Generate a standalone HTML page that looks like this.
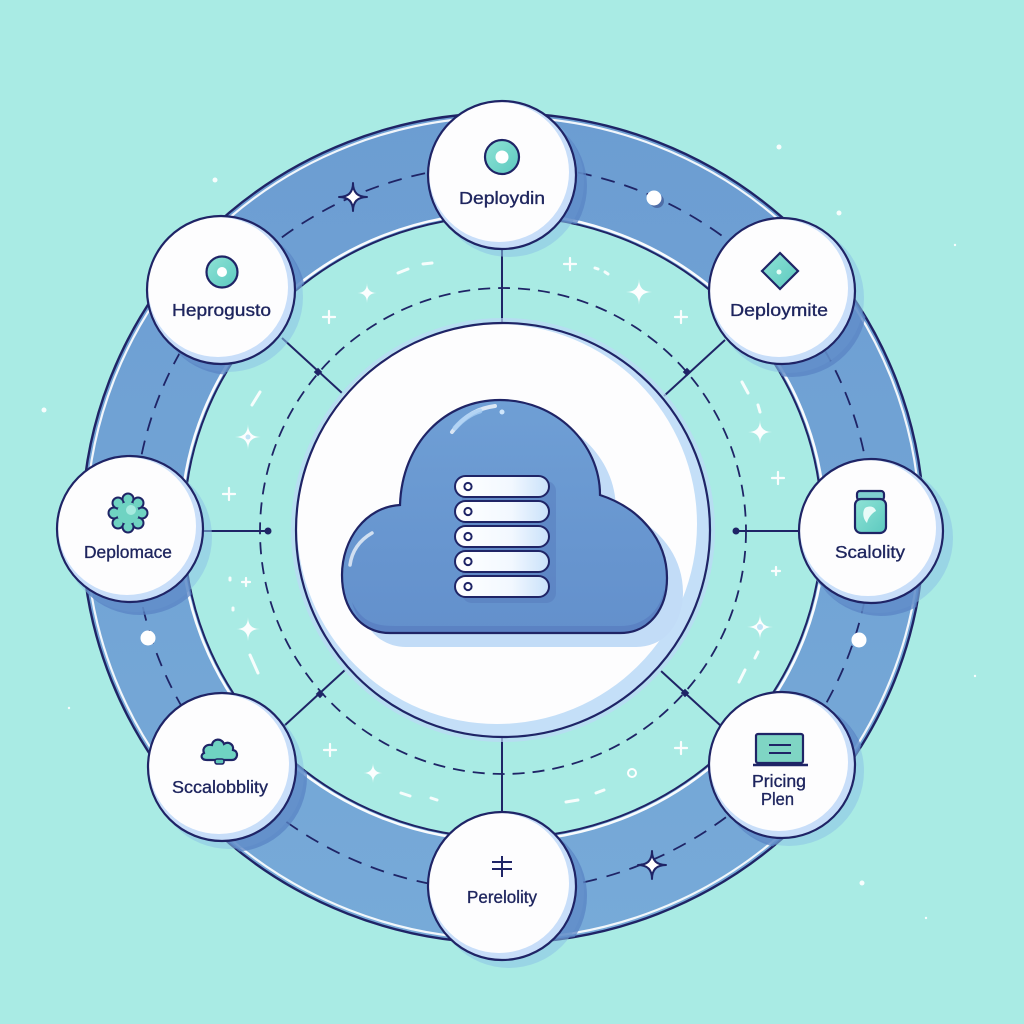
<!DOCTYPE html>
<html><head><meta charset="utf-8"><style>
html,body{margin:0;padding:0;background:#a9ebe4;}
svg{display:block;}
text{font-family:"Liberation Sans",sans-serif;fill:#1e255e;stroke:#1e255e;stroke-width:0.35;}
</style></head><body>
<svg width="1024" height="1024" viewBox="0 0 1024 1024" xmlns="http://www.w3.org/2000/svg">
<defs>
  <linearGradient id="band" x1="0" y1="0" x2="0" y2="1">
    <stop offset="0" stop-color="#6c9dd2"/>
    <stop offset="1" stop-color="#77aad8"/>
  </linearGradient>
  <linearGradient id="cloudg" x1="0" y1="0" x2="0" y2="1">
    <stop offset="0" stop-color="#6f9fd5"/>
    <stop offset="1" stop-color="#6390cc"/>
  </linearGradient>
  <linearGradient id="pill" x1="0" y1="0" x2="1" y2="0">
    <stop offset="0" stop-color="#ffffff"/>
    <stop offset="0.6" stop-color="#f2f8ff"/>
    <stop offset="1" stop-color="#c9e1fa"/>
  </linearGradient>
  <linearGradient id="teal" x1="0" y1="0" x2="1" y2="1">
    <stop offset="0" stop-color="#8fe3d6"/>
    <stop offset="1" stop-color="#5cc9bf"/>
  </linearGradient>
  <clipPath id="bandclip">
    <path clip-rule="evenodd" d="M82,528 a421,415 0 1,0 842,0 a421,415 0 1,0 -842,0 Z M184,527 a319,311 0 1,0 638,0 a319,311 0 1,0 -638,0 Z"/>
  </clipPath>
</defs>

<rect width="1024" height="1024" fill="#a9ebe4"/>

<!-- outer background dots -->
<g fill="#ffffff" opacity="0.9">
  <circle cx="215" cy="180" r="2.5"/>
  <circle cx="44" cy="410" r="2.5"/>
  <circle cx="779" cy="147" r="2.5"/>
  <circle cx="839" cy="213" r="2.5"/>
  <circle cx="862" cy="883" r="2.5"/>
  <circle cx="163" cy="262" r="1.2"/>
  <circle cx="69" cy="708" r="1.2"/>
  <circle cx="926" cy="918" r="1.2"/>
  <circle cx="975" cy="676" r="1.2"/>
  <circle cx="955" cy="245" r="1.2"/>
</g>

<!-- ring band -->
<path fill="url(#band)" fill-rule="evenodd" d="M82,528 a421,415 0 1,0 842,0 a421,415 0 1,0 -842,0 Z M184,527 a319,311 0 1,0 638,0 a319,311 0 1,0 -638,0 Z"/>
<ellipse cx="503" cy="528" rx="417" ry="411" fill="none" stroke="#ffffff" stroke-width="2.2" opacity="0.9"/>
<ellipse cx="503" cy="528" rx="421" ry="415" fill="none" stroke="#1f2466" stroke-width="2.4"/>
<ellipse cx="503" cy="527" rx="322" ry="314" fill="none" stroke="#ffffff" stroke-width="2.6" opacity="0.95"/>
<ellipse cx="503" cy="527" rx="319" ry="311" fill="none" stroke="#1f2466" stroke-width="2"/>
<ellipse cx="503" cy="528" rx="369" ry="363" fill="none" stroke="#1f2466" stroke-width="1.8" stroke-dasharray="14 10"/>

<!-- white dash fragments inner region -->
<g stroke="#ffffff" stroke-width="3" stroke-linecap="round" opacity="0.9">
  <line x1="398" y1="273" x2="408" y2="269"/>
  <line x1="423" y1="264" x2="432" y2="263"/>
  <line x1="595" y1="268" x2="598" y2="269"/>
  <line x1="605" y1="272" x2="608" y2="274"/>
  <line x1="260" y1="392" x2="252" y2="405"/>
  <line x1="230" y1="578" x2="230" y2="580"/>
  <line x1="233" y1="608" x2="233" y2="610"/>
  <line x1="250" y1="655" x2="258" y2="673"/>
  <line x1="401" y1="793" x2="410" y2="796"/>
  <line x1="431" y1="798" x2="437" y2="800"/>
  <line x1="566" y1="802" x2="578" y2="800"/>
  <line x1="596" y1="793" x2="604" y2="790"/>
  <line x1="739" y1="682" x2="745" y2="670"/>
  <line x1="755" y1="658" x2="758" y2="652"/>
  <line x1="742" y1="382" x2="748" y2="393"/>
  <line x1="758" y1="405" x2="760" y2="412"/>
</g>

<!-- inner dashed circle -->
<circle cx="503" cy="531" r="243" fill="none" stroke="#1f2466" stroke-width="1.8" stroke-dasharray="12 8"/>

<!-- connectors -->
<g stroke="#1f2466" stroke-width="2" fill="none">
  <line x1="502" y1="249" x2="502" y2="324"/>
  <line x1="502" y1="736" x2="502" y2="812"/>
  <line x1="202" y1="531" x2="268" y2="531"/>
  <line x1="736" y1="531" x2="800" y2="531"/>
  <line x1="282" y1="338" x2="342" y2="393"/>
  <line x1="725" y1="340" x2="664" y2="396"/>
  <line x1="284" y1="726" x2="345" y2="670"/>
  <line x1="721" y1="726" x2="661" y2="671"/>
</g>
<g fill="#1f2466">
  <circle cx="268" cy="531" r="3.5"/>
  <circle cx="736" cy="531" r="3.5"/>
  <rect x="315" y="369" width="6" height="6" transform="rotate(45 318 372)"/>
  <rect x="684" y="369" width="6" height="6" transform="rotate(45 687 372)"/>
  <rect x="317" y="691" width="6" height="6" transform="rotate(45 320 694)"/>
  <rect x="682" y="690" width="6" height="6" transform="rotate(45 685 693)"/>
</g>

<!-- central circle -->
<circle cx="503" cy="530" r="212" fill="#bcd9f6" opacity="0.7"/>
<circle cx="503" cy="530" r="207" fill="#c4dff8"/>
<circle cx="497" cy="524" r="200" fill="#fdfdfe"/>
<circle cx="503" cy="530" r="207" fill="none" stroke="#1f2466" stroke-width="2.2"/>

<!-- cloud -->
<path transform="translate(16 14)" fill="#c2dcf7" d="M390,633 L620,633 C650,633 667,608 667,578 C667,540 640,508 600,495 C600,443 555,400 500,400 C445,400 402,443 400,505 C365,507 342,540 342,575 C342,610 362,633 390,633 Z"/>
<path fill="url(#cloudg)" d="M390,633 L620,633 C650,633 667,608 667,578 C667,540 640,508 600,495 C600,443 555,400 500,400 C445,400 402,443 400,505 C365,507 342,540 342,575 C342,610 362,633 390,633 Z"/>
<path fill="#587ec0" opacity="0.75" d="M352,602 C362,622 375,626 395,626 L620,626 C645,626 660,610 664,590 C667,610 650,633 620,633 L390,633 C370,633 356,620 352,602 Z"/>
<path fill="none" stroke="#1f2466" stroke-width="2.2" d="M390,633 L620,633 C650,633 667,608 667,578 C667,540 640,508 600,495 C600,443 555,400 500,400 C445,400 402,443 400,505 C365,507 342,540 342,575 C342,610 362,633 390,633 Z"/>
<path fill="none" stroke="#ffffff" stroke-width="4" stroke-linecap="round" opacity="0.75" d="M452,432 C465,414 480,408 495,406"/>
<path fill="none" stroke="#a9d0f4" stroke-width="5" stroke-linecap="round" opacity="0.8" d="M455,428 C462,420 470,414 480,411"/>
<circle cx="502" cy="412" r="2.5" fill="#cfe6fb"/>
<path fill="none" stroke="#ffffff" stroke-width="3.5" stroke-linecap="round" opacity="0.7" d="M350,565 C352,550 360,540 372,533"/>

<!-- server stack -->
<g>
  <rect x="462" y="481" width="94" height="122" rx="10" fill="#5577bb" opacity="0.45"/>
  <g stroke="#1f2466" stroke-width="2">
    <rect x="455" y="476" width="94" height="21" rx="10.5" fill="url(#pill)"/>
    <rect x="455" y="501" width="94" height="21" rx="10.5" fill="url(#pill)"/>
    <rect x="455" y="526" width="94" height="21" rx="10.5" fill="url(#pill)"/>
    <rect x="455" y="551" width="94" height="21" rx="10.5" fill="url(#pill)"/>
    <rect x="455" y="576" width="94" height="21" rx="10.5" fill="url(#pill)"/>
    <circle cx="468" cy="486.5" r="3.6" fill="#fff"/>
    <circle cx="468" cy="511.5" r="3.6" fill="#fff"/>
    <circle cx="468" cy="536.5" r="3.6" fill="#fff"/>
    <circle cx="468" cy="561.5" r="3.6" fill="#fff"/>
    <circle cx="468" cy="586.5" r="3.6" fill="#fff"/>
  </g>
</g>

<!-- node shadows -->
<g fill="#8cc3e6" opacity="0.55">
  <circle cx="509" cy="182" r="75"/>
  <circle cx="228" cy="297" r="75"/>
  <circle cx="789" cy="298" r="75"/>
  <circle cx="137" cy="537" r="75"/>
  <circle cx="878" cy="538" r="75"/>
  <circle cx="229" cy="774" r="75"/>
  <circle cx="789" cy="771" r="75"/>
  <circle cx="509" cy="893" r="75"/>
</g>
<g fill="#5a84c4" opacity="0.75" clip-path="url(#bandclip)">
  <circle cx="512" cy="186" r="75"/>
  <circle cx="231" cy="300" r="75"/>
  <circle cx="792" cy="302" r="75"/>
  <circle cx="140" cy="540" r="75"/>
  <circle cx="881" cy="541" r="75"/>
  <circle cx="232" cy="777" r="75"/>
  <circle cx="792" cy="774" r="75"/>
  <circle cx="512" cy="896" r="75"/>
</g>

<!-- nodes -->
<g id="nodes">
  <g>
    <circle cx="502" cy="175" r="74" fill="#c8def9"/>
    <circle cx="499" cy="172" r="70" fill="#fdfdfe"/>
    <circle cx="502" cy="175" r="74" fill="none" stroke="#1f2466" stroke-width="2.2"/>
  </g>
  <g>
    <circle cx="221" cy="290" r="74" fill="#c8def9"/>
    <circle cx="218" cy="287" r="70" fill="#fdfdfe"/>
    <circle cx="221" cy="290" r="74" fill="none" stroke="#1f2466" stroke-width="2.2"/>
  </g>
  <g>
    <circle cx="782" cy="291" r="73" fill="#c8def9"/>
    <circle cx="779" cy="288" r="69" fill="#fdfdfe"/>
    <circle cx="782" cy="291" r="73" fill="none" stroke="#1f2466" stroke-width="2.2"/>
  </g>
  <g>
    <circle cx="130" cy="529" r="73" fill="#c8def9"/>
    <circle cx="127" cy="526" r="69" fill="#fdfdfe"/>
    <circle cx="130" cy="529" r="73" fill="none" stroke="#1f2466" stroke-width="2.2"/>
  </g>
  <g>
    <circle cx="871" cy="531" r="72" fill="#c8def9"/>
    <circle cx="868" cy="528" r="68" fill="#fdfdfe"/>
    <circle cx="871" cy="531" r="72" fill="none" stroke="#1f2466" stroke-width="2.2"/>
  </g>
  <g>
    <circle cx="222" cy="767" r="74" fill="#c8def9"/>
    <circle cx="219" cy="764" r="70" fill="#fdfdfe"/>
    <circle cx="222" cy="767" r="74" fill="none" stroke="#1f2466" stroke-width="2.2"/>
  </g>
  <g>
    <circle cx="782" cy="765" r="73" fill="#c8def9"/>
    <circle cx="779" cy="762" r="69" fill="#fdfdfe"/>
    <circle cx="782" cy="765" r="73" fill="none" stroke="#1f2466" stroke-width="2.2"/>
  </g>
  <g>
    <circle cx="502" cy="886" r="74" fill="#c8def9"/>
    <circle cx="499" cy="883" r="70" fill="#fdfdfe"/>
    <circle cx="502" cy="886" r="74" fill="none" stroke="#1f2466" stroke-width="2.2"/>
  </g>
</g>

<!-- icons -->
<g stroke="#1f2466" stroke-width="2.2">
  <circle cx="502" cy="157" r="17" fill="url(#teal)"/>
  <circle cx="502" cy="157" r="6.5" fill="#ffffff" stroke="none"/>
  <circle cx="222" cy="272" r="15.5" fill="url(#teal)"/>
  <circle cx="222" cy="272" r="5" fill="#ffffff" stroke="none"/>
  <path d="M780,253 L798,271 L780,289 L762,271 Z" fill="url(#teal)"/>
  <circle cx="779" cy="272" r="2.5" fill="#e8fff8" stroke="none"/>
  <rect x="756" y="734" width="47" height="29" rx="2" fill="#7fd5c4"/>
  <line x1="753" y1="765" x2="808" y2="765" stroke-width="2.6"/>
  <line x1="769" y1="745" x2="791" y2="745" stroke-width="2"/>
  <line x1="769" y1="753" x2="791" y2="753" stroke-width="2"/>
  <rect x="857" y="491" width="27" height="9" rx="3" fill="#7fcfd0"/>
  <rect x="855" y="499" width="31" height="34" rx="6" fill="url(#teal)"/>
</g>
<path d="M865,508 C870,505 875,507 876,511 C872,513 868,518 867,523 C863,519 862,512 865,508 Z" fill="#e8fbf8"/>
<!-- gear (left) -->
<g>
  <g fill="#1f2466">
    <circle cx="128" cy="513" r="13"/>
    <circle cx="128" cy="499" r="6.5"/>
    <circle cx="128" cy="527" r="6.5"/>
    <circle cx="114" cy="513" r="6.5"/>
    <circle cx="142" cy="513" r="6.5"/>
    <circle cx="118" cy="503" r="6.5"/>
    <circle cx="138" cy="503" r="6.5"/>
    <circle cx="118" cy="523" r="6.5"/>
    <circle cx="138" cy="523" r="6.5"/>
  </g>
  <g fill="#6fd3c2">
    <circle cx="128" cy="513" r="11"/>
    <circle cx="128" cy="499" r="4.5"/>
    <circle cx="128" cy="527" r="4.5"/>
    <circle cx="114" cy="513" r="4.5"/>
    <circle cx="142" cy="513" r="4.5"/>
    <circle cx="118" cy="503" r="4.5"/>
    <circle cx="138" cy="503" r="4.5"/>
    <circle cx="118" cy="523" r="4.5"/>
    <circle cx="138" cy="523" r="4.5"/>
  </g>
  <circle cx="131" cy="510" r="5" fill="#a6eadf"/>
</g>
<!-- small cloud (bottom-left) -->
<g>
  <path d="M207,760 L232,760 C238,760 239,751 233,750 C234,744 228,741 224,744 C222,738 213,738 212,745 C206,744 202,748 204,753 C200,755 201,760 207,760 Z" fill="#6fd3c2" stroke="#1f2466" stroke-width="2.2"/>
  <rect x="215" y="759" width="9" height="5" rx="2" fill="#5cc4b6" stroke="#1f2466" stroke-width="1.6"/>
</g>
<!-- bottom symbol -->
<g stroke="#1f2466" stroke-width="2" fill="none">
  <line x1="492" y1="862" x2="512" y2="862"/>
  <line x1="492" y1="869" x2="512" y2="869"/>
  <line x1="502" y1="856" x2="502" y2="877"/>
</g>

<!-- labels -->
<g font-size="17.5" text-anchor="middle">
  <text x="502" y="204" textLength="86" lengthAdjust="spacingAndGlyphs">Deploydin</text>
  <text x="221.5" y="316" textLength="99" lengthAdjust="spacingAndGlyphs">Heprogusto</text>
  <text x="779" y="316" textLength="98" lengthAdjust="spacingAndGlyphs">Deploymite</text>
  <text x="128" y="558" textLength="88" lengthAdjust="spacingAndGlyphs">Deplomace</text>
  <text x="870" y="558" textLength="70" lengthAdjust="spacingAndGlyphs">Scalolity</text>
  <text x="220" y="793" textLength="96" lengthAdjust="spacingAndGlyphs">Sccalobblity</text>
  <text x="779" y="787" textLength="54" lengthAdjust="spacingAndGlyphs">Pricing</text>
  <text x="777.5" y="805" textLength="33" lengthAdjust="spacingAndGlyphs">Plen</text>
  <text x="502" y="903" textLength="70" lengthAdjust="spacingAndGlyphs">Perelolity</text>
</g>

<!-- ring sparkles / dots -->
<path d="M353,183 Q353,197 367,197 Q353,197 353,211 Q353,197 339,197 Q353,197 353,183 Z" fill="#ffffff" stroke="#1f2466" stroke-width="2" stroke-linejoin="round"/>
<path d="M652,851 Q652,865 666,865 Q652,865 652,879 Q652,865 638,865 Q652,865 652,851 Z" fill="#ffffff" stroke="#1f2466" stroke-width="2" stroke-linejoin="round"/>
<g>
  <circle cx="657" cy="201" r="7" fill="#3a4d8a" opacity="0.6"/>
  <circle cx="654" cy="198" r="7.5" fill="#ffffff"/>
  <circle cx="148" cy="638" r="7.5" fill="#ffffff"/>
  <circle cx="859" cy="640" r="7.5" fill="#ffffff"/>
</g>

<!-- inner sparkles -->
<g fill="#ffffff" opacity="0.95">
  <path d="M367,283 Q367,293 377,293 Q367,293 367,303 Q367,293 357,293 Q367,293 367,283 Z"/>
  <path d="M248,424 Q248,437 261,437 Q248,437 248,450 Q248,437 235,437 Q248,437 248,424 Z"/>
  <path d="M639,279 Q639,292 652,292 Q639,292 639,305 Q639,292 626,292 Q639,292 639,279 Z"/>
  <path d="M760,420 Q760,432 772,432 Q760,432 760,444 Q760,432 748,432 Q760,432 760,420 Z"/>
  <path d="M760,614 Q760,627 773,627 Q760,627 760,640 Q760,627 747,627 Q760,627 760,614 Z"/>
  <path d="M248,617 Q248,629 260,629 Q248,629 248,641 Q248,629 236,629 Q248,629 248,617 Z"/>
  <path d="M373,763 Q373,773 383,773 Q373,773 373,783 Q373,773 363,773 Q373,773 373,763 Z"/>
</g>
<g fill="#bfe4f6">
  <circle cx="248" cy="437" r="2.5"/>
  <circle cx="760" cy="627" r="3"/>
</g>
<g stroke="#ffffff" stroke-width="2.2" stroke-linecap="round" opacity="0.95">
  <path d="M329,311 v12 M323,317 h12"/>
  <path d="M229,488 v12 M223,494 h12"/>
  <path d="M681,311 v12 M675,317 h12"/>
  <path d="M778,472 v12 M772,478 h12"/>
  <path d="M330,744 v12 M324,750 h12"/>
  <path d="M681,742 v12 M675,748 h12"/>
  <path d="M570,258 v12 M564,264 h12"/>
  <path d="M776,567 v8 M772,571 h8"/>
  <path d="M246,578 v8 M242,582 h8"/>
</g>
<circle cx="632" cy="773" r="4" fill="none" stroke="#ffffff" stroke-width="2"/>
</svg>
</body></html>
